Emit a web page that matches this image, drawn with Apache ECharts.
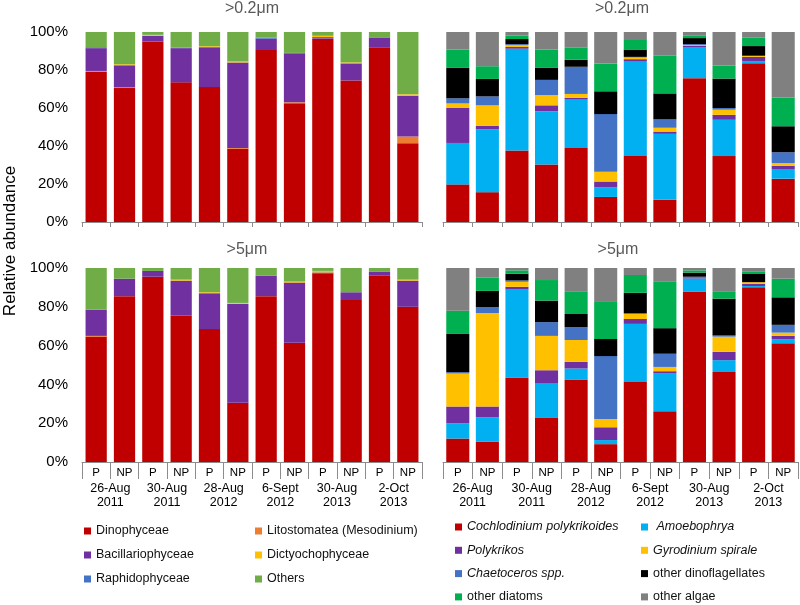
<!DOCTYPE html>
<html>
<head>
<meta charset="utf-8">
<script src="https://cdn.jsdelivr.net/npm/echarts@6/dist/echarts.min.js"></script>
<style>html,body{margin:0;padding:0;background:#fff}#c{width:800px;height:605px}</style>
</head>
<body>
<div id="c"></div>
<script>
// ---------- categories / labels ----------
const samples = ['P','NP','P','NP','P','NP','P','NP','P','NP','P','NP'];
const dates = ['26-Aug\n2011','30-Aug\n2011','28-Aug\n2012','6-Sept\n2012','30-Aug\n2013','2-Oct\n2013'];
const panelTitles = ['>0.2μm','>0.2μm','>5μm','>5μm'];
const yAxisTitle = 'Relative abundance';

// ---------- left panels (class level), >0.2 µm ----------
const classNames = ['Dinophyceae','Litostomatea (Mesodinium)','Bacillariophyceae','Dictyochophyceae','Raphidophyceae','Others'];
const dino02   = [79, 70.5, 95, 73.5, 71, 38.5, 90.5, 62.5, 96.5, 74.5, 92, 41.5];
const lito02   = [0.5, 0.5, 0, 0, 0, 0.5, 0, 0.5, 0, 0, 0, 3.5];
const bacil02  = [12, 11.5, 3, 18, 21, 45, 6, 25.5, 0.8, 9, 5, 21.5];
const dict02   = [0, 0.5, 0.5, 0, 0.5, 0.5, 0, 0, 0.7, 0.5, 0, 0.7];
const raph02   = [0.5, 0, 0, 0.3, 0, 0, 0.5, 0.5, 0, 0, 0.3, 0];
const others02 = [8, 17, 1.5, 8.2, 7.5, 15.5, 3, 11, 2, 16, 2.7, 32.8];

// ---------- left panels (class level), >5 µm ----------
const dino5   = [64.5, 85.5, 95.5, 75.5, 68.5, 30.5, 85.5, 61.5, 97, 83.5, 96, 80];
const lito5   = [0.5, 0, 0, 0, 0, 0, 0, 0, 0, 0, 0, 0];
const bacil5  = [13.5, 9, 3, 18, 18.5, 51, 10.5, 31, 0.7, 4, 2, 13.5];
const dict5   = [0, 0, 0, 0.5, 0.5, 0.5, 0, 0.5, 0.8, 0, 0, 0.5];
const raph5   = [0, 0, 0, 0, 0, 0, 0, 0, 0, 0, 0, 0];
const others5 = [21.5, 5.5, 1.5, 6, 12.5, 18, 4, 7, 1.5, 12.5, 2, 6];

// ---------- right panels (taxa), >0.2 µm ----------
const taxaNames = ['Cochlodinium polykrikoides','Amoebophrya','Polykrikos','Gyrodinium spirale','Chaetoceros spp.','other dinoflagellates','other diatoms','other algae'];
const cochlo02 = [19.8, 15.7, 37.6, 30.2, 39, 13.2, 34.7, 11.8, 75.7, 34.7, 83.6, 22.8];
const amoeb02  = [21.8, 33, 53.6, 28, 25.7, 5, 50, 34.6, 16.4, 19.1, 1.1, 5.1];
const poly02   = [18.4, 1.9, 0.9, 3.2, 0.7, 3.1, 1, 1.2, 0.7, 2.6, 2.2, 1.7];
const gyro02   = [2.4, 10.8, 1, 5.4, 2, 5.2, 0.9, 2, 0.3, 2.7, 0.6, 1.4];
const chaet02  = [2.7, 4.7, 0.5, 8, 14.3, 30.3, 0.3, 4.4, 0.5, 0.9, 0, 5.7];
const odino02  = [16, 9.2, 2.7, 6.3, 3.7, 12, 3.9, 13.7, 3.2, 15.5, 5.1, 13.7];
const odiat02  = [9.7, 6.7, 1.9, 9.7, 6.3, 14.6, 5, 20, 1.2, 6.9, 4.4, 15.2];
const algae02  = [9.2, 18, 1.8, 9.2, 8.3, 16.6, 4.2, 12.3, 2, 17.6, 3, 34.4];

// ---------- right panels (taxa), >5 µm ----------
const cochlo5 = [12.1, 10.4, 43.5, 22.7, 42.5, 9.2, 41.2, 26.2, 87.9, 46.4, 90.1, 61.2];
const amoeb5  = [7.8, 12.7, 45.4, 17.7, 5.7, 2.1, 30, 19.4, 6.7, 6.1, 0.6, 2.1];
const poly5   = [8.7, 5.5, 1.4, 6.9, 3.4, 6.6, 2.5, 1.2, 0.3, 4.3, 1.2, 1.7];
const gyro5   = [17, 48.2, 2.6, 17.7, 11.3, 4.3, 2.6, 2.2, 0, 7.8, 0.8, 1.7];
const chaet5  = [0.7, 3.1, 0.7, 7.1, 6.6, 32.4, 0.5, 6.8, 0.6, 0.6, 0, 4];
const odino5  = [19.7, 8.3, 3.5, 11.1, 6.8, 8.8, 10.4, 13.2, 2.1, 19, 4.2, 14.2];
const odiat5  = [12, 6.8, 1.7, 10.6, 11.4, 19.1, 9.2, 24.2, 1.2, 3.5, 1.4, 9.6];
const algae5  = [22, 5, 1.2, 6.2, 12.3, 17.5, 3.6, 6.8, 1.2, 12.3, 1.7, 5.5];

// ---------- styling ----------
const classColors = ['#C00000','#ED7D31','#7030A0','#FFC000','#4472C4','#70AD47'];
const taxaColors  = ['#C00000','#00B0F0','#7030A0','#FFC000','#4472C4','#000000','#00B050','#808080'];
const italicTaxa = ['Cochlodinium polykrikoides','Amoebophrya','Polykrikos','Gyrodinium spirale','Chaetoceros spp.'];
const FONT = '"Liberation Sans", Arial, sans-serif';
const AXIS_COLOR = '#8c8c8c';

const leftSets02 = [dino02, lito02, bacil02, dict02, raph02, others02];
const leftSets5  = [dino5, lito5, bacil5, dict5, raph5, others5];
const rightSets02 = [cochlo02, amoeb02, poly02, gyro02, chaet02, odino02, odiat02, algae02];
const rightSets5  = [cochlo5, amoeb5, poly5, gyro5, chaet5, odino5, odiat5, algae5];

function barSeries(names, sets, colors, axisIdx, stack, gap) {
  return names.map((n, i) => ({
    type: 'bar', name: n, data: sets[i], stack: stack,
    xAxisIndex: axisIdx, yAxisIndex: axisIdx,
    barCategoryGap: gap,
    itemStyle: { color: colors[i] },
    emphasis: { disabled: true },
    silent: true
  }));
}

const grids = [
  { left: 82,  top: 32,  width: 340, height: 190 },
  { left: 443, top: 32,  width: 355, height: 190 },
  { left: 82,  top: 268, width: 340, height: 194 },
  { left: 443, top: 268, width: 355, height: 194 }
];

function sampleAxis(gi, showLabels) {
  return {
    type: 'category', gridIndex: gi, data: samples, position: 'bottom',
    axisLine: { show: true, lineStyle: { color: AXIS_COLOR, width: 1 } },
    axisTick: { show: true, length: showLabels ? 17 : 5, lineStyle: { color: AXIS_COLOR } },
    axisLabel: { show: showLabels, interval: 0, margin: 4, fontSize: 11.5, lineHeight: 14, color: '#000', fontFamily: FONT },
    splitLine: { show: false }
  };
}
function dateAxis(gi) {
  return {
    type: 'category', gridIndex: gi, data: dates, position: 'bottom', offset: 0,
    axisLine: { show: false }, axisTick: { show: false },
    axisLabel: { show: true, interval: 0, margin: 20, fontSize: 12.5, lineHeight: 14, color: '#000', fontFamily: FONT },
    splitLine: { show: false }
  };
}
function valueAxis(gi, showLabels) {
  return {
    type: 'value', gridIndex: gi, min: 0, max: 100, interval: 20,
    axisLine: { show: false }, axisTick: { show: false }, splitLine: { show: false },
    axisLabel: { show: showLabels, formatter: '{value}%', margin: 14, fontSize: 15, color: '#000', fontFamily: FONT }
  };
}

const legendText = { fontSize: 12.5, lineHeight: 14, color: '#111', fontFamily: FONT,
  rich: { i: { fontStyle: 'italic', fontSize: 12.5, lineHeight: 14, color: '#111', fontFamily: FONT } } };
function legendCol(names, left, top, gap) {
  return {
    orient: 'vertical', left: left, top: top, padding: 0, itemGap: gap,
    itemWidth: 7, itemHeight: 7, icon: 'rect', selectedMode: false,
    data: names, textStyle: legendText,
    formatter: n => italicTaxa.indexOf(n) >= 0 ? (n === 'Amoebophrya' ? ' {i|' + n + '}' : '{i|' + n + '}') : n
  };
}

const titlePos = [[252, 9], [622, 9], [247, 250], [618, 250]];
const graphics = titlePos.map((p, i) => ({
  type: 'text', x: p[0], y: p[1], silent: true,
  style: { text: panelTitles[i], textAlign: 'center', textVerticalAlign: 'middle', fontSize: 16, fill: '#595959', fontFamily: FONT }
}));
graphics.push({
  type: 'text', x: 10, y: 241, rotation: Math.PI / 2, silent: true,
  style: { text: yAxisTitle, textAlign: 'center', textVerticalAlign: 'middle', fontSize: 17, fill: '#000', fontFamily: FONT }
});

const option = {
  animation: false,
  grid: grids,
  xAxis: [sampleAxis(0, false), sampleAxis(1, false), sampleAxis(2, true), sampleAxis(3, true), dateAxis(2), dateAxis(3)],
  yAxis: [valueAxis(0, true), valueAxis(1, false), valueAxis(2, true), valueAxis(3, false)],
  legend: [
    legendCol([classNames[0], classNames[2], classNames[4]], 84, 524, 10),
    legendCol([classNames[1], classNames[3], classNames[5]], 255, 524, 10),
    legendCol([taxaNames[0], taxaNames[2], taxaNames[4], taxaNames[6]], 455, 520, 9.3),
    legendCol([taxaNames[1], taxaNames[3], taxaNames[5], taxaNames[7]], 641, 520, 9.3)
  ],
  graphic: graphics,
  series: [].concat(
    barSeries(classNames, leftSets02, classColors, 0, 'tl', '25%'),
    barSeries(taxaNames, rightSets02, taxaColors, 1, 'tr', '22%'),
    barSeries(classNames, leftSets5, classColors, 2, 'bl', '25%'),
    barSeries(taxaNames, rightSets5, taxaColors, 3, 'br', '22%')
  )
};

const chart = echarts.init(document.getElementById('c'), null, { renderer: 'canvas' });
chart.setOption(option);
</script>
</body>
</html>
